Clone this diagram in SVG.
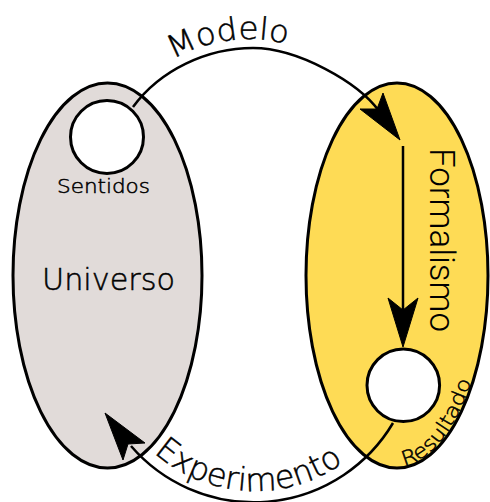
<svg xmlns="http://www.w3.org/2000/svg" width="490" height="502" viewBox="0 0 490 502">
  <style>
    .ell { stroke: #000; stroke-width: 3; }
    .hole { fill: #fff; stroke: #000; stroke-width: 3; }
    .hand { font-family: "DejaVu Sans", "Noto Sans", sans-serif; font-weight: 200; fill: #000; stroke: #000; stroke-width: 0.5; }
    .sans { font-family: "Roboto", "Liberation Sans", Arial, sans-serif; font-weight: 300; fill: #000; }
    .wire { fill: none; stroke: #000; stroke-width: 2.5; }
    .head { fill: #000; stroke: #000; stroke-width: 1; stroke-linejoin: miter; }
  </style>
  <defs>
    <path id="pModelo" d="M106.2,139 A152,152 0 0 1 391.8,139"/>
    <path id="pExp" d="M105.3,365.4 A152,152 0 0 0 404.7,365.4"/>
    <path id="pRes" d="M397,466 A89,190 0 0 0 486,276"/>
  </defs>
  <rect width="490" height="502" fill="#fff"/>

  <g id="universo">
    <ellipse class="ell" cx="107.5" cy="275.5" rx="94.5" ry="192.5" fill="#e1dbd9"/>
    <text class="hand" x="42" y="290" font-size="30" textLength="133" lengthAdjust="spacingAndGlyphs">Universo</text>
  </g>

  <g id="formalismo">
    <ellipse class="ell" cx="397" cy="275.5" rx="91" ry="192.5" fill="#fedb55"/>
    <text class="sans" transform="translate(430,148) rotate(90)" font-size="35" textLength="184" lengthAdjust="spacingAndGlyphs">Formalismo</text>
  </g>

  <g id="sentidos">
    <circle class="hole" cx="107" cy="137" r="36.5"/>
    <text class="hand" x="57" y="193" font-size="20" textLength="93" lengthAdjust="spacingAndGlyphs">Sentidos</text>
  </g>

  <g id="resultado">
    <circle class="hole" cx="403.3" cy="385.3" r="36.3"/>
    <text class="hand" font-size="20"><textPath href="#pRes" startOffset="7" textLength="113" lengthAdjust="spacingAndGlyphs">Resultado</textPath></text>
  </g>

  <g id="connectors">
    <path class="wire" d="M133,107 C160,70 207,48 253,48 C298,48 358.4,82.6 379,111"/>
    <path class="head" d="M400,140 L360,109 L377,109 L383,93 Z"/>
    <text class="hand" font-size="31" text-anchor="middle"><textPath href="#pModelo" startOffset="165" textLength="118" lengthAdjust="spacingAndGlyphs">Modelo</textPath></text>

    <path class="wire" d="M403,146 L403,314"/>
    <path class="head" d="M403,347 L388,298 L403,310 L418,298 Z"/>

    <path class="wire" d="M393,423 A162,162 0 0 1 131,446"/>
    <path class="head" d="M105,413 L123,460 L128,444 L145,443 Z"/>
    <text class="hand" font-size="32" text-anchor="middle"><textPath href="#pExp" startOffset="204" textLength="205" lengthAdjust="spacingAndGlyphs">Experimento</textPath></text>
  </g>
</svg>
